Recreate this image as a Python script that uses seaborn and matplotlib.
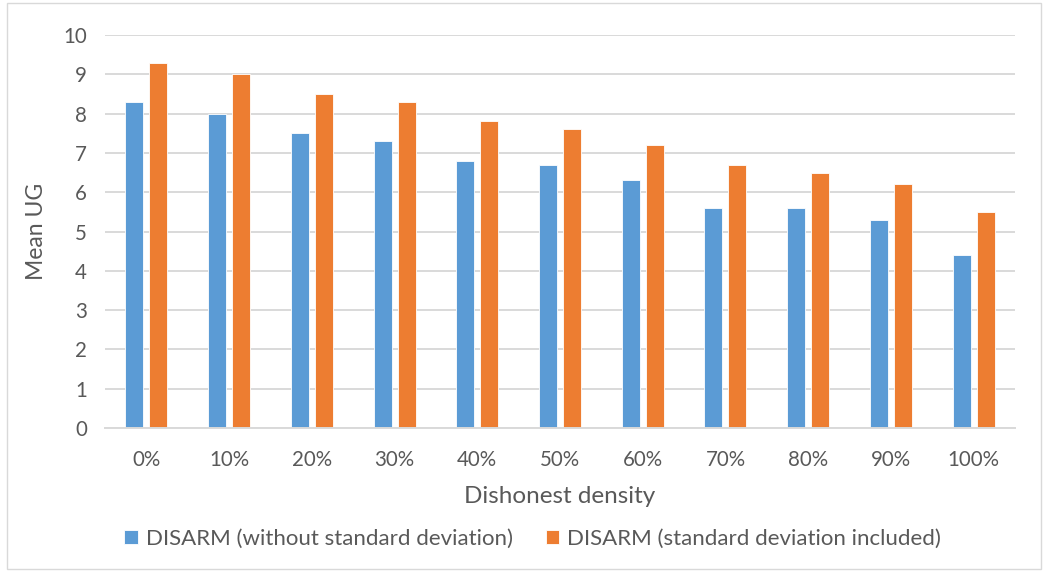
import pandas as pd
import seaborn as sns
import matplotlib.pyplot as plt

# Data
densities = ['0%', '10%', '20%', '30%', '40%', '50%', '60%', '70%', '80%', '90%', '100%']
without_sd = [8.3, 8.0, 7.5, 7.3, 6.8, 6.7, 6.3, 5.6, 5.6, 5.3, 4.4]
with_sd = [9.3, 9.0, 8.5, 8.3, 7.8, 7.6, 7.2, 6.7, 6.5, 6.2, 5.5]
series_names = ['DISARM (without standard deviation)', 'DISARM (standard deviation included)']
colors = ['#5B9BD5', '#ED7D31']

df = pd.DataFrame({
    'density': densities * 2,
    'value': without_sd + with_sd,
    'series': [series_names[0]] * len(densities) + [series_names[1]] * len(densities),
})

sns.set_theme(style='white')
plt.rcParams['font.family'] = ['Lato', 'DejaVu Sans']
text_color = '#595959'

fig = plt.figure(figsize=(10.44, 5.71), dpi=100)
ax = fig.add_axes([0.1006, 0.2504, 0.8716, 0.6883])

sns.barplot(data=df, x='density', y='value', hue='series', palette=colors,
            width=0.58, gap=0.25, ax=ax, saturation=1, edgecolor='white', linewidth=0.6)

ax.set_ylim(0, 10)
ax.set_yticks(range(0, 11))
ax.set_xlim(-0.5, len(densities) - 0.5)
ax.yaxis.grid(True, color='#d9d9d9', linewidth=1.4)
ax.set_axisbelow(True)
for s in ['top', 'right', 'left']:
    ax.spines[s].set_visible(False)
ax.spines['bottom'].set_color('#d9d9d9')
ax.spines['bottom'].set_linewidth(1.4)
ax.tick_params(axis='both', length=0, labelsize=14.8, colors=text_color)
ax.tick_params(axis='x', pad=16)
ax.tick_params(axis='y', pad=13)

ax.set_xlabel('Dishonest density', fontsize=17.5, color=text_color, labelpad=11)
ax.set_ylabel('Mean UG', fontsize=16.5, color=text_color, labelpad=12)

ax.legend(loc='upper center', bbox_to_anchor=(0.47, -0.205), ncol=2, frameon=False,
          fontsize=16, labelcolor=text_color, handlelength=0.6, handleheight=0.6,
          handletextpad=0.35, columnspacing=1.5)

# light chart frame
fig.patches.append(plt.Rectangle((0.007, 0.004), 0.99, 0.99, transform=fig.transFigure,
                                 fill=False, edgecolor='#d9d9d9', linewidth=1))

fig.savefig('out.png', dpi=100)
